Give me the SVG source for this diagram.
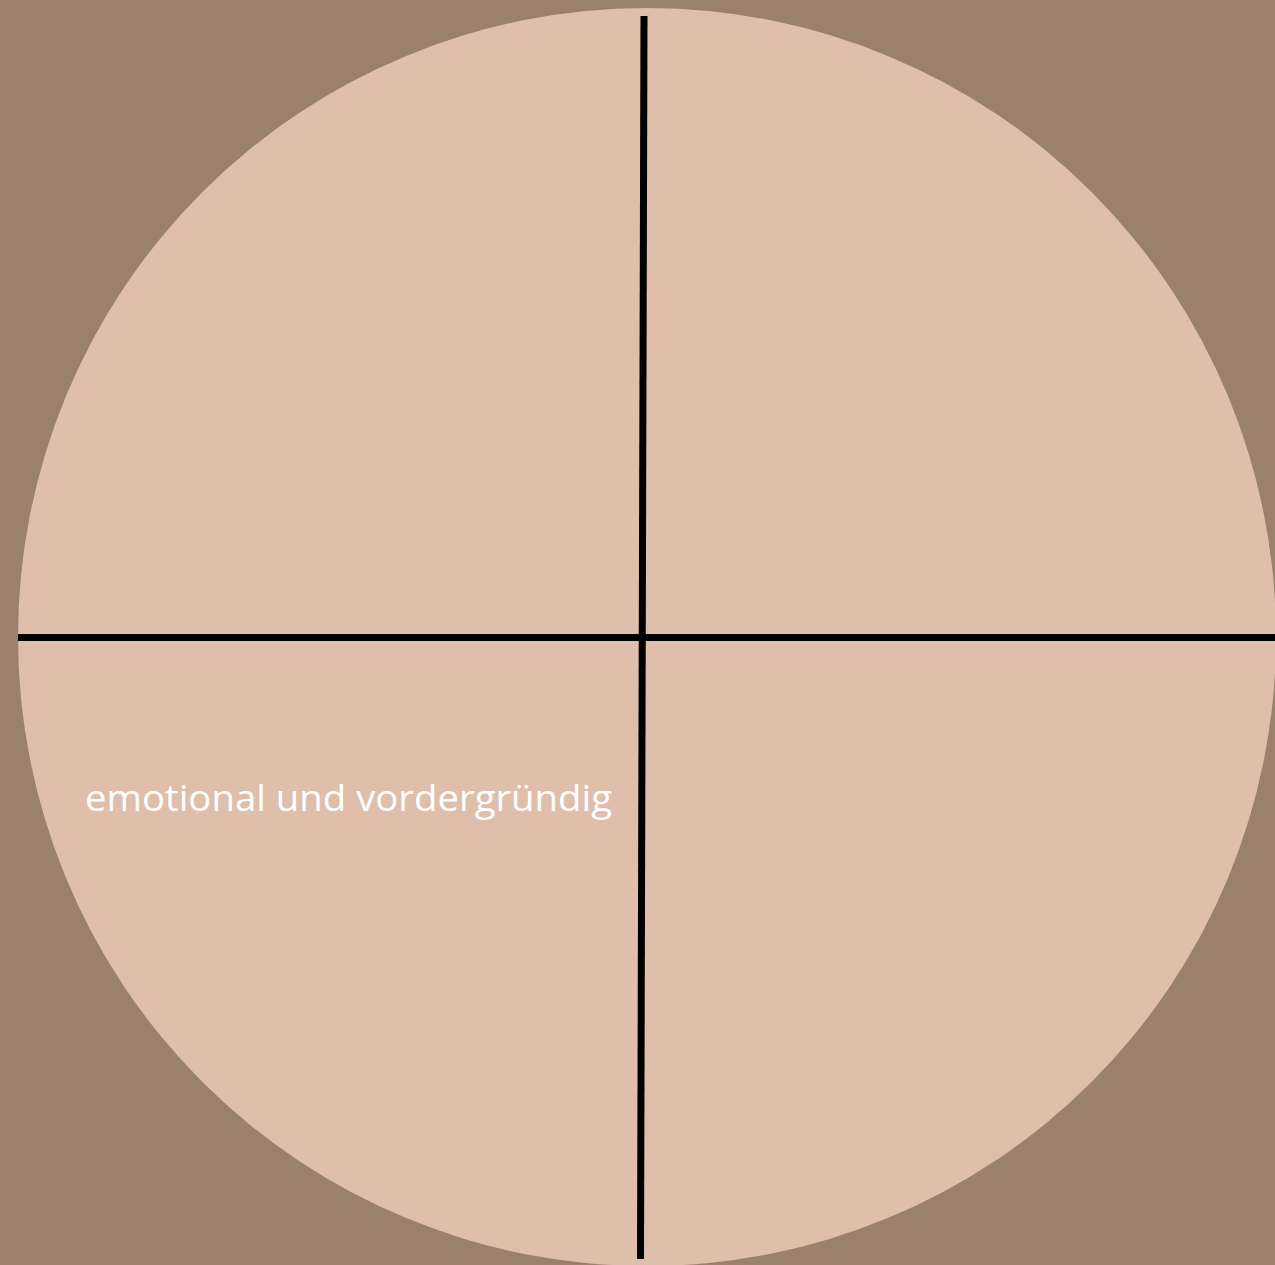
<svg xmlns="http://www.w3.org/2000/svg" width="1275" height="1265" viewBox="0 0 1275 1265">
<style>
.ax{stroke:#000;stroke-width:7;fill:none}
.lbl{font-family:"Open Sans","DejaVu Sans",sans-serif;font-size:37px;fill:#ffffff}
</style>
<rect width="1275" height="1265" fill="#9C806E"/>
<g id="circle">
<circle cx="647" cy="637" r="629" fill="#E0BEAC"/>
</g>
<g id="connectors">
<line class="ax" x1="644" y1="16" x2="640.5" y2="1259"/>
<line class="ax" x1="18" y1="637.5" x2="1275" y2="637.5"/>
</g>
<g id="label">
<text class="lbl" x="85" y="811" textLength="527" lengthAdjust="spacingAndGlyphs">emotional und vordergründig</text>
</g>
</svg>
